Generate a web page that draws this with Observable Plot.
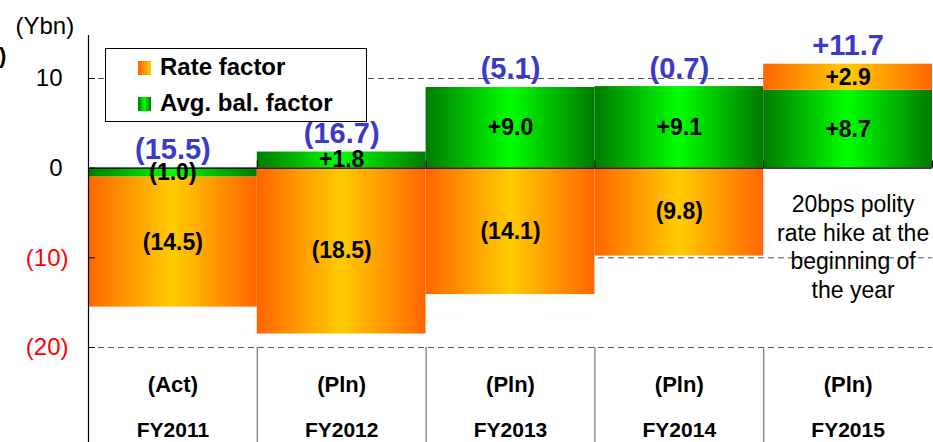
<!DOCTYPE html>
<html>
<head>
<meta charset="utf-8">
<script src="https://cdn.jsdelivr.net/npm/d3@7"></script>
<script src="https://cdn.jsdelivr.net/npm/@observablehq/plot@0.6"></script>
<style>
  html, body { margin: 0; padding: 0; background: #fff; }
  #wrap { position: relative; width: 933px; height: 442px; overflow: hidden; font-family: "Liberation Sans", Arial, sans-serif; }
  #legend { position: absolute; left: 105px; top: 48px; width: 260px; height: 72px; border: 1px solid #000; background: #fff; }
  #legend .sw { position: absolute; left: 32px; width: 13px; height: 14px; }
  #legend .lab { position: absolute; left: 54px; font-size: 24px; font-weight: bold; line-height: 24px; white-space: nowrap; color: #000; }
  #cut { position: absolute; left: -1px; top: 45px; font-size: 22px; font-weight: bold; line-height: 22px; }
</style>
</head>
<body>
<div id="wrap">
  <div id="chart"></div>
  <div id="legend"></div>
  <div id="cut">)</div>
</div>
<script>
// ---- data ----
const categories = ["FY2011", "FY2012", "FY2013", "FY2014", "FY2015"];
const status = ["(Act)", "(Pln)", "(Pln)", "(Pln)", "(Pln)"];
const avgBalFactor = [-1.0, 1.8, 9.0, 9.1, 8.7];
const rateFactor = [-14.5, -18.5, -14.1, -9.8, 2.9];
const totalLabels = ["(15.5)", "(16.7)", "(5.1)", "(0.7)", "+11.7"];
const yTicks = [10, 0, -10, -20];
const gridTicks = [10, -10, -20];
const seriesNames = ["Rate factor", "Avg. bal. factor"];
const yUnit = "(Ybn)";
const noteCategory = "FY2015";
const noteValue = -10;
const noteText = "20bps polity\nrate hike at the\nbeginning of\nthe year";

// ---- derived ----
const fmt = v => v < 0 ? `(${(-v).toFixed(1)})` : `+${v.toFixed(1)}`;
const tickFmt = v => v < 0 ? `(${-v})` : `${v}`;
const rows = [];
categories.forEach((c, i) => {
  rows.push({cat: c, i, factor: "avg", value: avgBalFactor[i]});
  rows.push({cat: c, i, factor: "rate", value: rateFactor[i]});
});
const tops = categories.map((c, i) => Math.max(0, avgBalFactor[i]) + Math.max(0, rateFactor[i]));
const fills = {rate: "url(#gradRate)", avg: "url(#gradAvg)"};
const yMin = -30.6, yMax = 14.8;
const tickLen = 0.8;

function defs() {
  const ns = "http://www.w3.org/2000/svg";
  const d = document.createElementNS(ns, "defs");
  const mk = (id, stops) => {
    const g = document.createElementNS(ns, "linearGradient");
    g.setAttribute("id", id);
    g.setAttribute("x1", "0"); g.setAttribute("x2", "1");
    g.setAttribute("y1", "0"); g.setAttribute("y2", "0");
    stops.forEach(([o, c]) => {
      const s = document.createElementNS(ns, "stop");
      s.setAttribute("offset", o); s.setAttribute("stop-color", c);
      g.appendChild(s);
    });
    d.appendChild(g);
  };
  mk("gradRate", [[0, "#FF6600"], [0.5, "#FFCC00"], [1, "#FF6600"]]);
  mk("gradAvg", [[0, "#007A00"], [0.5, "#00FF00"], [1, "#007A00"]]);
  return d;
}

const chart = Plot.plot({
  width: 933,
  height: 442,
  marginLeft: 88,
  marginRight: 1,
  marginTop: 35,
  marginBottom: 0,
  style: {fontFamily: '"Liberation Sans", Arial, sans-serif', fontSize: "23px", background: "transparent", overflow: "visible"},
  x: {domain: [0, categories.length], axis: null},
  y: {domain: [yMin, yMax], axis: null},
  color: {type: "identity"},
  marks: [
    defs,
    Plot.ruleY(gridTicks, {stroke: "#555", strokeWidth: 1, strokeDasharray: "6,4"}),
    Plot.rect(rows, Plot.stackY({x1: d => d.i, x2: d => d.i + 1, y: "value", fill: d => fills[d.factor]})),
    Plot.ruleY([0], {stroke: "#000", strokeWidth: 1.2}),
    Plot.ruleX(d3.range(1, categories.length + 1), {y1: 0, y2: tickLen, stroke: "#000", strokeWidth: 1}),
    Plot.ruleX(d3.range(1, categories.length), {y1: yTicks[yTicks.length - 1], y2: yMin, stroke: "#808080", strokeWidth: 1.3}),
    Plot.ruleX([0], {stroke: "#000", strokeWidth: 1.2}),
    Plot.axisY({ticks: yTicks, tickSize: -7, tickFormat: () => "", label: null, stroke: "#000"}),
    Plot.text(yTicks.filter(v => v >= 0), {y: d => d, text: tickFmt, frameAnchor: "left", textAnchor: "end", dx: -26, fontSize: 24, fill: "#000"}),
    Plot.text(yTicks.filter(v => v < 0), {y: d => d, text: tickFmt, frameAnchor: "left", textAnchor: "end", dx: -20, fontSize: 24, fill: "#FF0000"}),
    Plot.text(rows, Plot.stackY({x: d => d.i + 0.5, y: "value", text: d => fmt(d.value), lineAnchor: "middle", fontWeight: "bold", fontSize: 23, fill: "#000"})),
    Plot.text(categories, {x: (c, i) => i + 0.5, y: (c, i) => tops[i], text: (c, i) => totalLabels[i], lineAnchor: "bottom", dy: -9, fontWeight: "bold", fontSize: 29, fill: "#3A3AC8"}),
    Plot.text(categories, {x: (c, i) => i + 0.5, y: yTicks[yTicks.length - 1], text: (c, i) => status[i], lineAnchor: "bottom", dy: 45, fontWeight: "bold", fontSize: 22, fill: "#000"}),
    Plot.text(categories, {x: (c, i) => i + 0.5, y: yTicks[yTicks.length - 1], text: c => c, lineAnchor: "bottom", dy: 90, fontWeight: "bold", fontSize: 21, fill: "#000"}),
    Plot.text([noteText], {x: categories.indexOf(noteCategory) + 0.5, y: noteValue, text: d => d, lineAnchor: "middle", lineHeight: 1.24, dy: -12, dx: 5, fontSize: 23, fill: "#000"}),
    Plot.text([yUnit], {frameAnchor: "top-left", text: d => d, textAnchor: "start", lineAnchor: "bottom", dx: -73, dy: -2, fontSize: 24, fill: "#000"})
  ]
});
document.getElementById("chart").appendChild(chart);

// legend (inside plot area, as in the reference)
const legend = document.getElementById("legend");
const swatchBg = ["linear-gradient(to right, #FF6600, #FFCC00)", "linear-gradient(to right, #007A00, #00FF00 50%, #007A00)"];
seriesNames.forEach((name, k) => {
  const sw = document.createElement("div");
  sw.className = "sw";
  sw.style.top = (12 + k * 36) + "px";
  sw.style.background = swatchBg[k];
  legend.appendChild(sw);
  const lab = document.createElement("div");
  lab.className = "lab";
  lab.style.top = (6 + k * 36) + "px";
  lab.textContent = name;
  legend.appendChild(lab);
});
</script>
</body>
</html>
